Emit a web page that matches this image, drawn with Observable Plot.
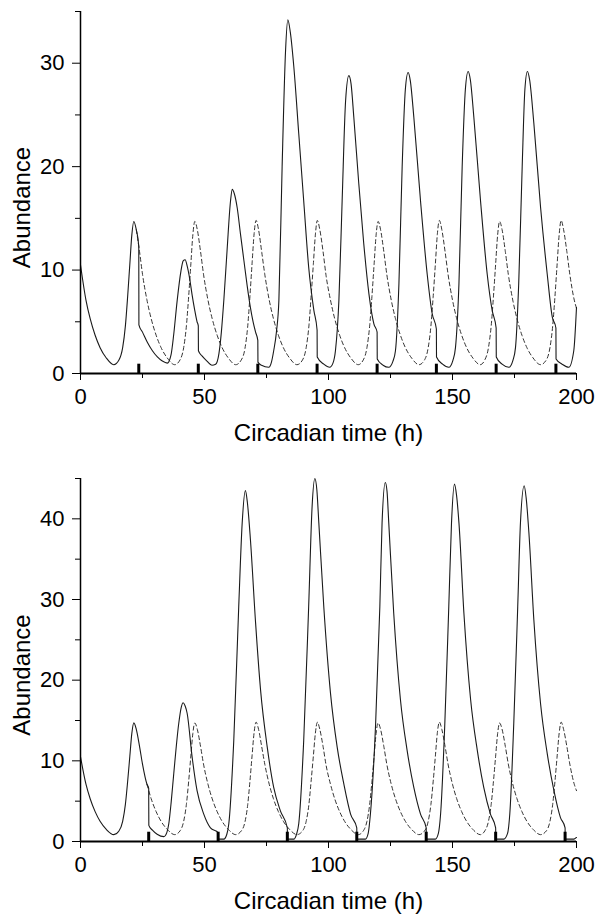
<!DOCTYPE html>
<html><head><meta charset="utf-8">
<script src="https://cdn.jsdelivr.net/npm/d3@7"></script>
<script src="https://cdn.jsdelivr.net/npm/@observablehq/plot@0.6"></script>
<style>body{margin:0;background:#fff} svg{display:block}</style>
</head><body><div id="c"></div>
<script>
// Unperturbed oscillator (dashed), shared by both panels
const dashT = [0, 2.2, 3.9, 5.9, 7.9, 10.4, 13.4, 15.5, 17.0, 18.1, 19.0, 19.9, 20.7, 21.5, 22.5, 23.8, 25.0, 26.8, 28.5, 30.5, 32.5, 35.0, 38.0,
  40.1, 41.6, 42.7, 43.6, 44.5, 45.3, 46.1, 47.1, 48.4, 49.6, 51.4, 53.1, 55.1, 57.1, 59.6, 62.6,
  64.8, 66.3, 67.4, 68.3, 69.2, 70.0, 70.8, 71.8, 73.1, 74.3, 76.1, 77.8, 79.8, 81.8, 84.3, 87.3,
  89.5, 91.0, 92.1, 93.0, 93.9, 94.7, 95.5, 96.5, 97.8, 99.0, 100.8, 102.5, 104.5, 106.5, 109.0, 112.0,
  114.0, 115.5, 116.6, 117.5, 118.4, 119.2, 120.0, 121.0, 122.3, 123.5, 125.3, 127.0, 129.0, 131.0, 133.5, 136.5,
  138.7, 140.2, 141.3, 142.2, 143.1, 143.9, 144.7, 145.7, 147.0, 148.2, 150.0, 151.7, 153.7, 155.7, 158.2, 161.2,
  163.0, 164.5, 165.6, 166.5, 167.4, 168.2, 169.0, 170.0, 171.3, 172.5, 174.3, 176.0, 178.0, 180.0, 182.5, 185.5,
  187.8, 189.3, 190.4, 191.3, 192.2, 193.0, 193.8, 194.8, 196.1, 197.3, 199.1, 200];
const dashV = [10.5, 7.1, 5.3, 3.7, 2.5, 1.5, 0.85, 1.3, 2.5, 4.6, 7.4, 10.6, 13.4, 14.7, 13.9, 11.8, 9.6, 7.1, 5.3, 3.7, 2.5, 1.5, 0.85,
  1.3, 2.5, 4.6, 7.4, 10.6, 13.4, 14.7, 13.9, 11.8, 9.6, 7.1, 5.3, 3.7, 2.5, 1.5, 0.85,
  1.3, 2.4, 4.5, 7.4, 10.7, 13.5, 14.8, 13.9, 11.7, 9.6, 7.1, 5.3, 3.7, 2.5, 1.5, 0.85,
  1.3, 2.5, 4.6, 7.5, 10.6, 13.4, 14.8, 13.9, 11.8, 9.5, 7.1, 5.3, 3.7, 2.5, 1.5, 0.85,
  1.3, 2.5, 4.6, 7.4, 10.6, 13.4, 14.7, 13.9, 11.8, 9.6, 7.1, 5.3, 3.7, 2.5, 1.5, 0.85,
  1.3, 2.5, 4.6, 7.4, 10.6, 13.5, 14.8, 13.9, 11.8, 9.6, 7.1, 5.3, 3.7, 2.5, 1.5, 0.85,
  1.3, 2.5, 4.6, 7.4, 10.6, 13.4, 14.7, 13.9, 11.8, 9.6, 7.1, 5.3, 3.7, 2.5, 1.5, 0.85,
  1.3, 2.5, 4.6, 7.4, 10.6, 13.4, 14.8, 13.9, 11.8, 9.6, 7.1, 6.3];

// Top panel: pulses every ~24 h
const topPulses = [23.5, 47.5, 71.5, 95.4, 119.6, 143.5, 167.6, 191.7];
const topSolidT = [23.5, 23.55, 25.0, 27.0, 29.0, 31.0, 33.0, 35.0, 36.5, 37.6, 39.0, 40.5, 41.4, 42.2, 43.0, 44.0, 45.0, 46.0, 47.0, 47.5,
  47.55, 49.0, 51.0, 53.0, 54.5, 55.8, 56.8, 57.8, 59.1, 60.5, 61.2, 62.0, 63.2, 64.5, 65.9, 67.2, 68.5, 69.6, 70.6, 71.5,
  71.55, 73.0, 75.9, 77.0, 77.9, 79.0, 80.0, 81.3, 82.7, 83.6, 84.6, 86.0, 88.0, 90.0, 92.0, 94.1, 95.4,
  95.45, 98.1, 100.5, 101.8, 102.8, 104.2, 105.5, 106.9, 108.2, 109.1, 110.2, 112.2, 114.2, 116.3, 118.3, 119.6,
  119.65, 122.0, 124.3, 126.0, 127.0, 128.4, 129.7, 131.0, 132.1, 133.0, 134.4, 137.1, 139.8, 141.8, 143.5,
  143.55, 146.0, 148.5, 150.2, 151.2, 152.6, 153.9, 155.2, 156.3, 157.2, 158.6, 161.3, 164.0, 166.0, 167.6,
  167.65, 170.0, 172.7, 174.4, 175.4, 176.7, 178.1, 179.2, 180.2, 181.1, 182.8, 185.5, 188.2, 190.2, 191.7,
  191.75, 194.2, 196.9, 198.9, 200];
const topSolidV = [12.3, 4.7, 4.0, 3.0, 2.2, 1.6, 1.2, 1.0, 1.8, 3.8, 7.1, 9.9, 10.9, 11.0, 10.4, 9.2, 7.6, 6.2, 5.0, 4.6,
  2.2, 1.7, 1.2, 0.8, 0.9, 1.9, 4.0, 7.1, 11.9, 16.7, 17.8, 17.4, 16.0, 13.5, 10.9, 8.5, 6.4, 5.0, 4.0, 3.2,
  1.1, 0.8, 0.6, 1.1, 2.2, 4.0, 7.1, 20.0, 31.3, 34.2, 33.0, 29.7, 23.2, 16.7, 10.3, 6.1, 4.2,
  1.6, 0.9, 0.6, 1.0, 2.2, 7.1, 16.7, 26.4, 28.8, 28.0, 24.8, 18.4, 12.6, 7.7, 4.8, 4.0,
  1.4, 0.8, 0.6, 1.2, 2.2, 8.7, 20.0, 27.5, 29.1, 28.3, 24.8, 16.7, 9.6, 5.8, 4.3,
  1.6, 0.9, 0.6, 1.3, 2.5, 8.7, 20.0, 27.5, 29.2, 28.4, 24.8, 16.7, 9.6, 6.1, 4.4,
  1.6, 0.9, 0.6, 1.3, 2.5, 8.7, 20.0, 27.5, 29.2, 28.4, 24.2, 16.1, 9.6, 5.5, 4.4,
  1.4, 0.9, 0.6, 2.2, 6.4];

// Bottom panel: pulses every ~28 h
const botPulses = [27.5, 55.5, 83.4, 111.4, 139.4, 167.4, 195.4];
const botSolidT = [27.5, 27.55, 29.0, 30.9, 33.6, 34.8, 35.6, 36.6, 37.6, 39.6, 40.6, 41.4, 42.2, 43.0, 45.0, 47.0, 49.7, 52.4, 55.5,
  55.55, 57.8, 59.0, 59.8, 61.8, 63.8, 65.2, 66.5, 67.3, 68.5, 70.6, 72.6, 75.3, 77.9, 80.6, 83.4,
  83.45, 86.0, 87.0, 88.0, 90.0, 92.0, 93.4, 94.5, 95.3, 96.1, 98.1, 100.8, 103.5, 106.2, 108.9, 111.4,
  111.45, 114.9, 116.0, 116.9, 119.0, 120.7, 121.6, 122.9, 123.6, 124.3, 126.3, 129.0, 131.7, 134.4, 137.1, 139.4,
  139.45, 143.1, 144.3, 145.2, 146.9, 148.5, 149.6, 150.8, 151.6, 152.6, 154.6, 157.3, 160.0, 162.6, 165.3, 167.4,
  167.45, 170.7, 172.2, 173.1, 174.7, 176.3, 177.4, 178.9, 179.7, 180.8, 182.8, 185.5, 188.2, 190.9, 193.5, 195.4,
  195.45, 197.6, 199.0, 200];
const botSolidV = [6.6, 2.0, 1.4, 0.9, 0.6, 1.1, 2.2, 5.0, 8.4, 14.6, 16.6, 17.2, 16.8, 15.9, 10.5, 6.3, 3.4, 1.7, 1.1,
  0.3, 0.3, 0.9, 2.2, 12.5, 29.1, 39.5, 43.5, 42.0, 37.5, 27.1, 18.8, 11.7, 6.7, 3.8, 1.7,
  0.3, 0.3, 0.8, 2.2, 12.5, 29.1, 41.6, 45.0, 43.6, 39.5, 29.1, 18.4, 11.7, 7.1, 3.4, 1.7,
  0.3, 0.3, 1.0, 3.4, 14.6, 29.1, 39.5, 44.5, 43.4, 39.5, 28.3, 17.6, 11.3, 6.7, 3.4, 1.7,
  0.3, 0.3, 1.0, 3.4, 14.6, 29.1, 39.5, 44.3, 43.0, 39.5, 28.3, 17.6, 11.3, 6.7, 3.4, 1.7,
  0.3, 0.3, 1.0, 3.4, 14.6, 29.1, 39.5, 44.1, 42.6, 38.3, 27.5, 17.1, 10.9, 6.3, 3.0, 1.7,
  0.3, 0.3, 0.3, 0.5];

const xMajor = [0, 50, 100, 150, 200];
const xMinor = [25, 75, 125, 175];
const topYMajor = [0, 10, 20, 30], topYMinor = [5, 15, 25, 35];
const botYMajor = [0, 10, 20, 30, 40], botYMinor = [5, 15, 25, 35, 45];
const xLabel = "Circadian time (h)";
const yLabel = "Abundance";

const zip = (T, V) => T.map((t, i) => ({t, v: V[i]}));
const dashed = zip(dashT, dashV);

function panel({after, pulses, yMax, yMajor, yMinor, height, marginTop, marginBottom, pulseH}) {
  const first = pulses[0];
  const solid = dashed.filter(d => d.t < first).concat(after);
  const dash = dashed.filter(d => d.t >= first - 1);
  return Plot.plot({
    width: 598, height, marginLeft: 80, marginRight: 22, marginTop, marginBottom,
    style: {fontFamily: "'Liberation Sans', Arial, Helvetica, sans-serif", background: "#fff", color: "#000", overflow: "visible"},
    x: {domain: [0, 200]},
    y: {domain: [0, yMax]},
    marks: [
      Plot.line(dash, {x: "t", y: "v", stroke: "#333", strokeWidth: 1, strokeDasharray: "4,3", curve: "monotone-x"}),
      Plot.line(solid, {x: "t", y: "v", stroke: "#1a1a1a", strokeWidth: 1.1, curve: "monotone-x"}),
      Plot.ruleX(pulses, {x: d => d, y1: 0, y2: pulseH, stroke: "#000", strokeWidth: 3}),
      Plot.axisX({ticks: xMajor, tickSize: 7, tickPadding: 8, fontSize: 22, label: null}),
      Plot.axisX({ticks: xMinor, tickSize: 5, tickFormat: () => "", label: null}),
      Plot.axisY({ticks: yMajor, tickSize: 8, tickPadding: 8, fontSize: 22, label: null}),
      Plot.axisY({ticks: yMinor, tickSize: 5, tickFormat: () => "", label: null}),
      Plot.ruleY([0], {stroke: "#000", strokeWidth: 2}),
      Plot.ruleX([0], {stroke: "#000", strokeWidth: 1.5}),
      Plot.text([xLabel], {text: d => d, frameAnchor: "bottom", textAnchor: "middle", lineAnchor: "top", dy: 50, fontSize: 24, fill: "#000"}),
      Plot.text([yLabel], {text: d => d, frameAnchor: "left", textAnchor: "middle", lineAnchor: "middle", rotate: -90, dx: -58, dy: 15, fontSize: 24, fill: "#000"})
    ]
  });
}

const c = document.getElementById("c");
c.appendChild(panel({after: zip(topSolidT, topSolidV), pulses: topPulses, yMax: 35, yMajor: topYMajor, yMinor: topYMinor,
  height: 468, marginTop: 11, marginBottom: 95, pulseH: 0.9}));
c.appendChild(panel({after: zip(botSolidT, botSolidV), pulses: botPulses, yMax: 45, yMajor: botYMajor, yMinor: botYMinor,
  height: 447, marginTop: 10, marginBottom: 74, pulseH: 1.15}));
</script>
</body></html>
